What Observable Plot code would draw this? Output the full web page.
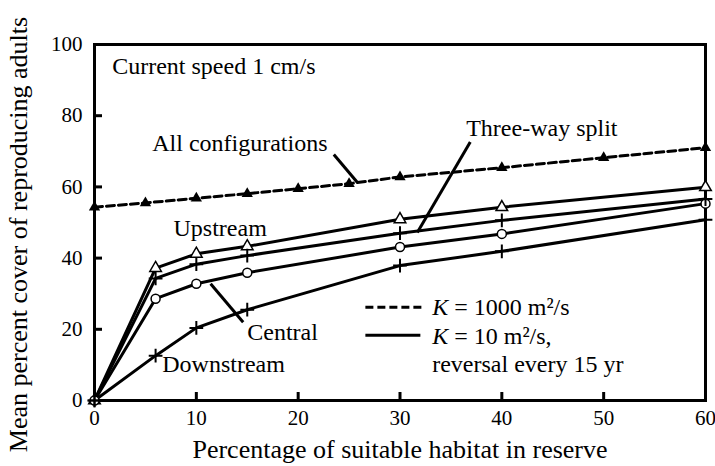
<!DOCTYPE html>
<html>
<head>
<meta charset="utf-8">
<script src="https://cdn.jsdelivr.net/npm/d3@7"></script>
<script src="https://cdn.jsdelivr.net/npm/@observablehq/plot@0.6"></script>
<style>
  html, body { margin: 0; padding: 0; background: white; }
  #chart { width: 715px; height: 466px; }
  #chart svg, #chart svg text, #chart svg tspan { font-family: "Liberation Serif", "Times New Roman", "DejaVu Serif", serif !important; }
</style>
</head>
<body>
<div id="chart"></div>
<script>
// ---- data ----
const xAll = [0, 5, 10, 15, 20, 25, 30, 40, 50, 60];
const allConfigurations = [54.3, 55.5, 56.8, 58.1, 59.5, 60.9, 62.8, 65.4, 68.2, 71.0];

const xConfig = [0, 6, 10, 15, 30, 40, 60];
const upstream   = [0, 37.2, 41.2, 43.3, 50.9, 54.3, 59.9];
const threeWay   = [0, 34.3, 38.3, 40.7, 47.0, 50.6, 56.6];
const central    = [0, 28.6, 32.8, 35.9, 43.1, 46.8, 55.3];
const downstream = [0, 12.6, 20.4, 25.5, 37.9, 41.9, 50.8];

const xTicks = [0, 10, 20, 30, 40, 50, 60];
const yTicks = [0, 20, 40, 60, 80, 100];
const xTitle = "Percentage of suitable habitat in reserve";
const yTitle = "Mean percent cover of reproducing adults";

// annotation labels (data coordinates)
const labels = [
  {text: "Current speed 1 cm/s", x: 1.74, y: 91.85},
  {text: "All configurations", x: 5.67, y: 70.2},
  {text: "Three-way split", x: 36.5, y: 74.2},
  {text: "Upstream", x: 7.76, y: 46.3},
  {text: "Central", x: 15.0, y: 17.1},
  {text: "Downstream", x: 6.65, y: 7.95},
  {text: "K = 1000 m²/s", x: 33.16, y: 23.9},
  {text: "K = 10 m²/s,", x: 33.16, y: 15.9},
  {text: "reversal every 15 yr", x: 33.16, y: 7.95}
];
const leaders = [
  {id: "all", x1: 23.5, y1: 69.1, x2: 25.8, y2: 61.3},
  {id: "split", x1: 36.9, y1: 72.6, x2: 31.7, y2: 47.2},
  {id: "central", x1: 11.4, y1: 32.8, x2: 14.6, y2: 22.0}
];
const legendLines = [
  {kind: "dashed", x1: 26.6, x2: 32.2, y: 26.2},
  {kind: "solid", x1: 26.6, x2: 32.0, y: 18.3}
];

// ---- tables ----
const allRows = xAll.map((x, i) => ({x, y: allConfigurations[i]}));
const mk = (name, vals) => xConfig.map((x, i) => ({series: name, x, y: vals[i]}));
const upRows = mk("Upstream", upstream);
const twRows = mk("Three-way split", threeWay);
const ceRows = mk("Central", central);
const dnRows = mk("Downstream", downstream);
const solidRows = [...upRows, ...twRows, ...ceRows, ...dnRows];

const W = 715, H = 466, ML = 94, MR = 10, MT = 44, MB = 66;
const PW = W - ML - MR, PH = H - MT - MB;
const FONT = "'Liberation Serif', 'Times New Roman', serif";

const plot = Plot.plot({
  width: W, height: H,
  marginLeft: ML, marginRight: MR, marginTop: MT, marginBottom: MB,
  style: {fontFamily: FONT, fontSize: "21px", background: "white", color: "black"},
  x: {domain: [0, 60]},
  y: {domain: [0, 100]},
  marks: [
    Plot.axisX(xTicks, {tickSize: 0, tickPadding: 10, label: null, fontSize: 21}),
    Plot.axisY(yTicks, {tickSize: 0, tickPadding: 12, label: null, fontSize: 21}),
    Plot.tickY([20, 40, 60, 80], {y: d => d, insetRight: PW - 8, strokeWidth: 3}),
    Plot.tickX([10, 20, 30, 40, 50], {x: d => d, insetTop: PH - 8, strokeWidth: 3}),
    Plot.frame({strokeWidth: 3}),
    // lines
    Plot.line(allRows, {x: "x", y: "y", stroke: "black", strokeWidth: 3, strokeDasharray: "8,4"}),
    Plot.line(solidRows, {x: "x", y: "y", z: "series", stroke: "black", strokeWidth: 3}),
    // leaders
    Plot.link(leaders, {x1: "x1", y1: "y1", x2: "x2", y2: "y2", stroke: "black", strokeWidth: 3}),
    // legend lines
    Plot.link(legendLines.filter(d => d.kind === "dashed"), {x1: "x1", x2: "x2", y1: "y", y2: "y", stroke: "black", strokeWidth: 3, strokeDasharray: "8,4"}),
    Plot.link(legendLines.filter(d => d.kind === "solid"), {x1: "x1", x2: "x2", y1: "y", y2: "y", stroke: "black", strokeWidth: 3}),
    // markers
    Plot.dot(allRows, {x: "x", y: "y", symbol: "triangle", fill: "black", r: 4.2}),
    Plot.dot(upRows, {x: "x", y: "y", symbol: "triangle", fill: "white", stroke: "black", strokeWidth: 1.5, r: 4.3}),
    Plot.dot(ceRows, {x: "x", y: "y", symbol: "circle", fill: "white", stroke: "black", strokeWidth: 1.5, r: 4.5}),
    Plot.dot(twRows, {x: "x", y: "y", symbol: "plus", stroke: "black", strokeWidth: 2, r: 4.5}),
    Plot.dot(dnRows, {x: "x", y: "y", symbol: "plus", stroke: "black", strokeWidth: 2, r: 4.5}),
    // annotation text
    Plot.text(labels, {x: "x", y: "y", text: "text", textAnchor: "start", lineAnchor: "bottom", fontSize: 24, fill: "black"}),
    // axis titles
    Plot.text([xTitle], {frameAnchor: "bottom", dy: 57, textAnchor: "middle", lineAnchor: "bottom", fontSize: 26, fill: "black"}),
    Plot.text([yTitle], {frameAnchor: "left", rotate: -90, dx: -76, dy: 12, textAnchor: "middle", lineAnchor: "middle", fontSize: 26, fill: "black"})
  ]
});

// italic K in legend entries
d3.select(plot).selectAll("text").each(function() {
  const t = this.textContent;
  if (t.startsWith("K = ")) {
    const sel = d3.select(this);
    sel.text(null);
    sel.append("tspan").attr("font-style", "italic").text("K");
    sel.append("tspan").text(t.slice(1));
  }
});

document.getElementById("chart").appendChild(plot);
</script>
</body>
</html>
